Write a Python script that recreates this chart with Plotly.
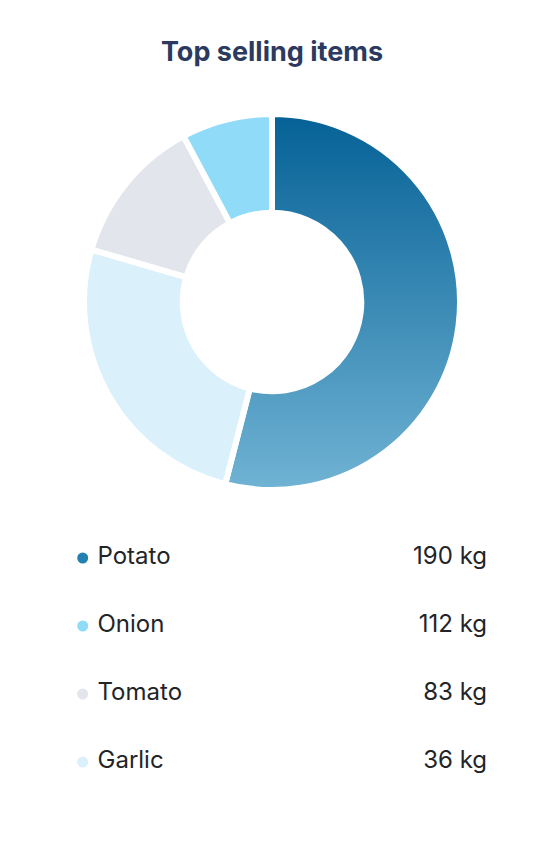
import numpy as np
import plotly.graph_objects as go

# ---- data ----
items = ["Potato", "Onion", "Tomato", "Garlic"]
legend_values = ["190 kg", "112 kg", "83 kg", "36 kg"]
item_colors = ["#2381b1", "#90dcf8", "#e2e5eb", "#daf0fb"]

# slice shares as drawn in the donut (clockwise from 12 o'clock)
slice_labels = ["Potato", "Garlic", "Tomato", "Onion"]
slice_values = [54.0, 25.5, 12.7, 7.8]
slice_colors = ["rgba(0,0,0,0)", "#daf0fb", "#e2e5eb", "#90dcf8"]
potato_gradient = ["#70b3d4", "#056196"]  # bottom -> top

W, H = 544, 862
FONT = "Inter, 'Noto Sans', sans-serif"
R_PX = 188          # outer radius of pie (px)
HOLE = 0.475
GAP = 6             # white separator width (px)
CX, CY = 272, 302   # centre (px from top-left)

dom = dict(x=[(CX - R_PX) / W, (CX + R_PX) / W],
           y=[(H - CY - R_PX) / H, (H - CY + R_PX) / H])

fig = go.Figure()

# gradient fill for the first (Potato) slice; drawn beneath the pie,
# whose Potato slice is transparent so the gradient shows through
total = sum(slice_values)
t0 = 0.0
t1 = 2 * np.pi * slice_values[0] / total
th_o = np.linspace(t0, t1, 160)
th_i = th_o[::-1]
r_in = HOLE * R_PX
gx = np.concatenate([R_PX * np.sin(th_o), r_in * np.sin(th_i), [R_PX * np.sin(t0)]])
gy = np.concatenate([R_PX * np.cos(th_o), r_in * np.cos(th_i), [R_PX * np.cos(t0)]])
fig.add_trace(go.Scatter(
    x=gx, y=gy, xaxis="x2", yaxis="y2", mode="lines", fill="toself",
    line=dict(width=0, color="rgba(0,0,0,0)"),
    fillgradient=dict(type="vertical",
                      colorscale=[[0, potato_gradient[0]], [1, potato_gradient[1]]]),
    hoverinfo="skip", showlegend=False,
))

fig.add_trace(go.Pie(
    labels=slice_labels,
    values=slice_values,
    sort=False,
    direction="clockwise",
    rotation=0,
    hole=HOLE,
    marker=dict(colors=slice_colors, line=dict(color="white", width=GAP)),
    textinfo="none",
    hoverinfo="label+percent",
    showlegend=False,
    domain=dom,
))

# legend rows as a scatter on a hidden cartesian axis (x in px units)
fig.add_trace(go.Scatter(
    x=[82.7] * len(items), y=items, mode="markers",
    marker=dict(size=11, color=item_colors),
    hoverinfo="skip", showlegend=False, cliponaxis=False,
))
fig.add_trace(go.Scatter(
    x=[97.5] * len(items), y=items, mode="text", text=items,
    textposition="middle right",
    textfont=dict(family=FONT, size=24, color="#222428"),
    hoverinfo="skip", showlegend=False, cliponaxis=False,
))
fig.add_trace(go.Scatter(
    x=[487] * len(items), y=items, mode="text", text=legend_values,
    textposition="middle left",
    textfont=dict(family=FONT, size=24, color="#222428"),
    hoverinfo="skip", showlegend=False, cliponaxis=False,
))

fig.update_layout(
    width=W, height=H,
    margin=dict(l=0, r=0, t=0, b=0),
    paper_bgcolor="white", plot_bgcolor="rgba(0,0,0,0)",
    title=dict(text="<b>Top selling items</b>", x=0.5, xanchor="center",
               y=1 - 52 / H, yanchor="middle",
               font=dict(family=FONT, size=27, color="#2b3a5e")),
    xaxis=dict(range=[0, W], domain=[0, 1], visible=False, fixedrange=True),
    yaxis=dict(type="category", categoryorder="array", categoryarray=items,
               range=[3.5, -0.5], domain=[(H - 796) / H, (H - 524) / H],
               visible=False, fixedrange=True),
    xaxis2=dict(range=[-R_PX, R_PX], domain=dom["x"], visible=False, fixedrange=True),
    yaxis2=dict(range=[-R_PX, R_PX], domain=dom["y"], visible=False, fixedrange=True),
)

fig.write_html("out.html")
